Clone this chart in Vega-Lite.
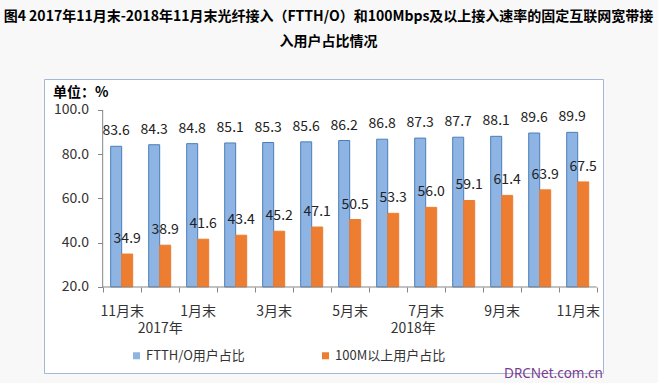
{
  "$schema": "https://vega.github.io/schema/vega-lite/v6.json",
  "width": 559,
  "height": 294,
  "autosize": {"type": "none"},
  "padding": {"left": 44, "top": 79, "right": 55, "bottom": 10},
  "background": "#f8f8f8",
  "config": {
    "view": {"fill": "white", "stroke": "#A3B8D8", "strokeWidth": 1},
    "font": "Noto Sans CJK SC",
    "axis": {"labelFont": "Noto Sans CJK SC", "labelFontSize": 14, "labelColor": "#333333", "tickColor": "#868686", "grid": false}
  },
  "title": {
    "text": ["图4 2017年11月末-2018年11月末光纤接入（FTTH/O）和100Mbps及以上接入速率的固定互联网宽带接", "入用户占比情况"],
    "fontSize": 14, "fontWeight": "bold", "font": "Noto Sans CJK SC", "color": "#000000",
    "anchor": "middle", "frame": "group", "lineHeight": 25, "offset": 30, "dx": 5
  },
  "datasets": {
    "main": [
      {"t": "2017-11", "s": "FTTH/O用户占比", "v": 83.6},
      {"t": "2017-12", "s": "FTTH/O用户占比", "v": 84.3},
      {"t": "2018-01", "s": "FTTH/O用户占比", "v": 84.8},
      {"t": "2018-02", "s": "FTTH/O用户占比", "v": 85.1},
      {"t": "2018-03", "s": "FTTH/O用户占比", "v": 85.3},
      {"t": "2018-04", "s": "FTTH/O用户占比", "v": 85.6},
      {"t": "2018-05", "s": "FTTH/O用户占比", "v": 86.2},
      {"t": "2018-06", "s": "FTTH/O用户占比", "v": 86.8},
      {"t": "2018-07", "s": "FTTH/O用户占比", "v": 87.3},
      {"t": "2018-08", "s": "FTTH/O用户占比", "v": 87.7},
      {"t": "2018-09", "s": "FTTH/O用户占比", "v": 88.1},
      {"t": "2018-10", "s": "FTTH/O用户占比", "v": 89.6},
      {"t": "2018-11", "s": "FTTH/O用户占比", "v": 89.9},
      {"t": "2017-11", "s": "100M以上用户占比", "v": 34.9},
      {"t": "2017-12", "s": "100M以上用户占比", "v": 38.9},
      {"t": "2018-01", "s": "100M以上用户占比", "v": 41.6},
      {"t": "2018-02", "s": "100M以上用户占比", "v": 43.4},
      {"t": "2018-03", "s": "100M以上用户占比", "v": 45.2},
      {"t": "2018-04", "s": "100M以上用户占比", "v": 47.1},
      {"t": "2018-05", "s": "100M以上用户占比", "v": 50.5},
      {"t": "2018-06", "s": "100M以上用户占比", "v": 53.3},
      {"t": "2018-07", "s": "100M以上用户占比", "v": 56.0},
      {"t": "2018-08", "s": "100M以上用户占比", "v": 59.1},
      {"t": "2018-09", "s": "100M以上用户占比", "v": 61.4},
      {"t": "2018-10", "s": "100M以上用户占比", "v": 63.9},
      {"t": "2018-11", "s": "100M以上用户占比", "v": 67.5}
    ],
    "yline": [{"t": "2017-11"}],
    "xline": [{"a": "2017-11", "b": "2018-11"}]
  },
  "layer": [
    {
      "data": {"name": "main"},
      "mark": {"type": "bar", "strokeWidth": 1},
      "encoding": {
        "x": {
          "field": "t", "type": "nominal",
          "scale": {"paddingInner": 0, "paddingOuter": 0.855, "align": 0.903},
          "axis": {
            "title": "DRCNet.com.cn", "titleColor": "#7A3B90", "titleFont": "Noto Sans", "titleFontSize": 13.5,
            "titleFontWeight": "normal", "titleX": 509, "titleY": 86, "titleBaseline": "middle", "titleAlign": "center", "titleAnchor": null,
            "offset": -86, "domain": false, "tickBand": "extent", "tickSize": 5,
            "labelAngle": 0, "labelOverlap": false, "labelBound": false, "labelFlush": false,
            "labelPadding": {"condition": {"test": "datum.value == '2017-12' || datum.value == '2018-06'", "value": 29}, "value": 12},
            "labelExpr": "datum.value == '2017-12' ? '2017年' : datum.value == '2018-06' ? '2018年' : indexof(['2017-11','2018-01','2018-03','2018-05','2018-07','2018-09','2018-11'], datum.value) >= 0 ? toNumber(slice(datum.value, 5)) + '月末' : ''",
            "labelOffset": {"condition": {"test": "datum.value == '2018-06'", "value": 25}, "value": 0}
          }
        },
        "xOffset": {"field": "s", "type": "nominal", "sort": ["FTTH/O用户占比", "100M以上用户占比"], "scale": {"paddingInner": 0, "paddingOuter": 0.727}},
        "y": {
          "field": "v", "type": "quantitative", "stack": null,
          "scale": {"domain": [-18.87, 114.01], "nice": false, "zero": false},
          "axis": {
            "title": "单位：%", "titleAngle": 0, "titleX": -50, "titleY": 13, "titleAlign": "left", "titleBaseline": "middle",
            "titleFontSize": 14, "titleFontWeight": "bold", "titleColor": "#000000", "titleFont": "Noto Sans CJK SC",
            "offset": -58.5, "domain": false, "values": [20, 40, 60, 80, 100], "format": ".1f", "tickSize": 5, "labelPadding": 9
          }
        },
        "y2": {"datum": 20},
        "color": {
          "field": "s", "type": "nominal", "sort": ["FTTH/O用户占比", "100M以上用户占比"],
          "scale": {"range": ["#8DB4E2", "#ED7D31"]},
          "legend": {
            "orient": "none", "legendX": 86, "legendY": 270, "direction": "horizontal", "title": null,
            "symbolType": "square", "symbolSize": 49, "labelFontSize": 13, "labelFont": "Noto Sans CJK SC",
            "labelColor": "#333333", "columnPadding": 74, "labelOffset": 3, "padding": 0
          }
        },
        "stroke": {
          "field": "s", "type": "nominal", "sort": ["FTTH/O用户占比", "100M以上用户占比"],
          "scale": {"range": ["#4A7EBB", "#ED7D31"]},
          "legend": null
        }
      }
    },
    {
      "data": {"name": "main"},
      "mark": {"type": "text", "dy": -15, "baseline": "middle", "fontSize": 14, "font": "Noto Sans CJK SC", "color": "#222222"},
      "encoding": {
        "x": {"field": "t", "type": "nominal"},
        "xOffset": {"field": "s", "type": "nominal", "sort": ["FTTH/O用户占比", "100M以上用户占比"]},
        "y": {"field": "v", "type": "quantitative", "stack": null},
        "text": {"field": "v", "type": "quantitative", "format": ".1f"}
      }
    },
    {
      "data": {"name": "yline"},
      "mark": {"type": "rule", "color": "#868686", "strokeWidth": 1},
      "encoding": {
        "x": {"field": "t", "type": "nominal", "bandPosition": 0},
        "y": {"datum": 20},
        "y2": {"datum": 100}
      }
    },
    {
      "data": {"name": "xline"},
      "mark": {"type": "rule", "color": "#868686", "strokeWidth": 1},
      "encoding": {
        "x": {"field": "a", "type": "nominal", "bandPosition": 0},
        "x2": {"field": "b", "bandPosition": 1},
        "y": {"datum": 20}
      }
    }
  ]
}
